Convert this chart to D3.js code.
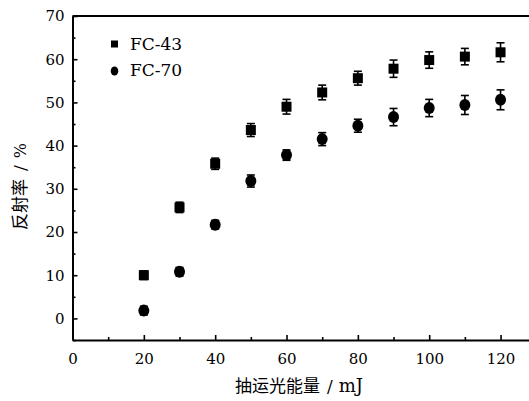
<!DOCTYPE html>
<html><head><meta charset="utf-8">
<script src="https://cdn.jsdelivr.net/npm/d3@7"></script>
<style>body{margin:0;background:#fff}svg{display:block}</style>
</head><body>
<svg id="c" width="529" height="401"></svg>
<script>
const energy = [20,30,40,50,60,70,80,90,100,110,120];
const fc43 = [10,25.7,35.8,43.6,49,52.3,55.6,57.8,59.8,60.6,61.6];
const fc43Err = [1,1.2,1.3,1.5,1.7,1.7,1.6,2,1.9,1.9,2.2];
const fc70 = [1.8,10.8,21.7,31.8,37.8,41.5,44.6,46.6,48.7,49.4,50.6];
const fc70Err = [1,1,1,1.4,1.2,1.5,1.5,2,2,2.2,2.3];
const xTicks = [0,20,40,60,80,100,120];
const yTicks = [0,10,20,30,40,50,60,70];
const seriesNames = ["FC-43","FC-70"];

const svg = d3.select("#c");
const x = d3.scaleLinear().domain([0,130]).range([72.5, 72.5+130*3.567]);
const y = d3.scaleLinear().domain([-5,70]).range([340,16]);
const serif = "DejaVu Serif, serif";
const cjk = "Noto Sans CJK SC, sans-serif";

svg.append("g").attr("transform","translate(0,340)")
  .call(d3.axisBottom(x).tickValues(xTicks).tickSize(-5).tickSizeOuter(0).tickPadding(13));
svg.append("g").attr("transform","translate(72.5,0)")
  .call(d3.axisLeft(y).tickValues(yTicks).tickSize(-5).tickSizeOuter(0).tickPadding(8));
svg.append("g").attr("transform","translate(0,340)")
  .call(d3.axisBottom(x).tickValues([10,30,50,70,90,110]).tickSize(-3).tickFormat("").tickSizeOuter(0))
  .select(".domain").remove();
svg.append("g").attr("transform","translate(72.5,0)")
  .call(d3.axisLeft(y).tickValues([-5,5,15,25,35,45,55,65]).tickSize(-3).tickFormat("").tickSizeOuter(0))
  .select(".domain").remove();
svg.selectAll(".domain").attr("stroke","#000").attr("stroke-width",2);
svg.selectAll(".tick line").attr("stroke","#000").attr("stroke-width",1.6);
svg.selectAll(".tick text").attr("font-family",serif).attr("font-size",15).attr("fill","#000");
svg.append("line").attr("x1",x(0)).attr("x2",x(130)).attr("y1",y(70)).attr("y2",y(70))
  .attr("stroke","#000").attr("stroke-width",2);

const xt = svg.append("text").attr("x",235).attr("y",392).attr("font-size",17);
xt.append("tspan").attr("font-family",cjk).text("抽运光能量");
xt.append("tspan").attr("font-family",serif).attr("dx",7).text("/");
xt.append("tspan").attr("font-family",serif).attr("dx",6).attr("font-size",18).text("mJ");

const yt = svg.append("text").attr("transform","translate(26,230) rotate(-90)").attr("font-size",17);
yt.append("tspan").attr("font-family",cjk).text("反射率");
yt.append("tspan").attr("font-family",serif).attr("dx",8).text("/");
yt.append("tspan").attr("font-family",serif).attr("dx",7).attr("font-size",16).text("%");

function errBars(vals, errs){
  const g = svg.append("g").attr("stroke","#000").attr("stroke-width",1.6);
  energy.forEach((e,i)=>{
    const cx = x(e), t = y(vals[i]+errs[i]), b = y(vals[i]-errs[i]);
    g.append("line").attr("x1",cx).attr("x2",cx).attr("y1",t).attr("y2",b);
    g.append("line").attr("x1",cx-4).attr("x2",cx+4).attr("y1",t).attr("y2",t);
    g.append("line").attr("x1",cx-4).attr("x2",cx+4).attr("y1",b).attr("y2",b);
  });
}
errBars(fc43, fc43Err);
errBars(fc70, fc70Err);
svg.append("g").selectAll("rect").data(energy).join("rect")
  .attr("x",d=>x(d)-5).attr("y",(d,i)=>y(fc43[i])-5).attr("width",10).attr("height",10).attr("fill","#000");
svg.append("g").selectAll("ellipse").data(energy).join("ellipse")
  .attr("cx",d=>x(d)).attr("cy",(d,i)=>y(fc70[i])).attr("rx",5.5).attr("ry",6).attr("fill","#000");

const lg = svg.append("g");
lg.append("rect").attr("x",111).attr("y",40.5).attr("width",7).attr("height",7).attr("fill","#000");
lg.append("ellipse").attr("cx",114.5).attr("cy",71).attr("rx",3.8).attr("ry",4.6).attr("fill","#000");
lg.selectAll("text").data(seriesNames).join("text")
  .attr("x",130).attr("y",(d,i)=>50+i*26).attr("font-family",serif).attr("font-size",17).text(d=>d);
</script>
</body></html>
